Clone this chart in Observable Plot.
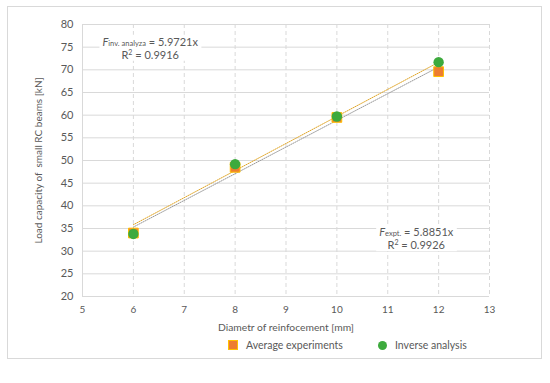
<!DOCTYPE html>
<html>
<head>
<meta charset="utf-8">
<script src="https://cdn.jsdelivr.net/npm/d3@7"></script>
<script src="https://cdn.jsdelivr.net/npm/@observablehq/plot@0.6"></script>
<style>
  body { margin: 0; background: #fff; font-family: Lato, "Open Sans", sans-serif; }
  #wrap { position: relative; width: 550px; height: 383px; }
  #frame { position: absolute; left: 7px; top: 6px; width: 535px; height: 353px; border: 1px solid #d9d9d9; box-sizing: border-box; }
  #chart { position: absolute; left: 0; top: 0; }
  #legend { position: absolute; top: 339px; left: 0; width: 550px; font-size: 10.5px; color: #595959; }
  .item { position: absolute; display: flex; align-items: center; }
  .sw { display: inline-block; margin-right: 8px; }
</style>
</head>
<body>
<div id="wrap">
  <div id="frame"></div>
  <div id="chart"></div>
  <div id="legend">
    <div class="item" style="left:228px"><span class="sw" style="width:8px;height:8px;background:#ED7D31;border:1px solid #FFC000"></span>Average experiments</div>
    <div class="item" style="left:378px"><span class="sw" style="width:9px;height:9px;background:#3DAA3D;border-radius:50%"></span>Inverse analysis</div>
  </div>
</div>
<script>
const diameters = [6, 8, 10, 12];
const avgExperiments = [34.0, 48.5, 59.5, 69.6];
const inverseAnalysis = [33.8, 49.2, 59.7, 71.7];
const xTicks = [5, 6, 7, 8, 9, 10, 11, 12, 13];
const yTicks = [20, 25, 30, 35, 40, 45, 50, 55, 60, 65, 70, 75, 80];
const slopeExpt = 5.8851;
const slopeInv = 5.9721;
const r2Expt = 0.9926;
const r2Inv = 0.9916;

const expData = diameters.map((d, i) => ({x: d, y: avgExperiments[i]}));
const invData = diameters.map((d, i) => ({x: d, y: inverseAnalysis[i]}));
const xRange = [diameters[0], diameters[diameters.length - 1]];
const trendExpt = xRange.map(x => ({x, y: slopeExpt * x}));
const trendInv = xRange.map(x => ({x, y: slopeInv * x}));

const plot = Plot.plot({
  width: 550,
  height: 335,
  marginTop: 24,
  marginBottom: 39,
  marginLeft: 82,
  marginRight: 61,
  style: {fontFamily: "Lato, 'Open Sans', sans-serif", fontSize: "11px", color: "#595959", background: "transparent"},
  x: {domain: [5, 13], ticks: xTicks, label: null},
  y: {domain: [20, 80], ticks: yTicks, label: null},
  marks: [
    Plot.gridY(yTicks, {stroke: "#d9d9d9", strokeOpacity: 1, strokeWidth: 1}),
    Plot.gridX(xTicks.slice(1), {stroke: "#d9d9d9", strokeOpacity: 1, strokeDasharray: "4,3"}),
    Plot.ruleX([5], {stroke: "#d9d9d9"}),
    Plot.axisX(xTicks, {tickSize: 0, tickPadding: 9, fill: "#595959", fontSize: 10, label: null}),
    Plot.axisY(yTicks, {tickSize: 0, tickPadding: 9, fill: "#595959", fontSize: 11, label: null}),
    Plot.line(trendExpt, {x: "x", y: "y", stroke: "#9a9a9a", strokeWidth: 1, strokeDasharray: "1,1.2"}),
    Plot.line(trendInv, {x: "x", y: "y", stroke: "#E0A526", strokeWidth: 1, strokeDasharray: "1,1.2"}),
    Plot.dot(expData, {x: "x", y: "y", symbol: "square", r: 5.5, fill: "#ED7D31", stroke: "#FFC000", strokeWidth: 1}),
    Plot.dot(invData, {x: "x", y: "y", symbol: "circle", r: 5.2, fill: "#3DAA3D"}),
    Plot.text(["Diametr of reinfocement [mm]"], {frameAnchor: "bottom", dy: 34, fill: "#595959", fontSize: 10.3}),
    Plot.text(["Load capacity of  small RC beams [kN]"], {frameAnchor: "left", dx: -44, rotate: -90, textAnchor: "middle", fill: "#595959", fontSize: 10})
  ]
});
document.getElementById("chart").appendChild(plot);

const sx = plot.scale("x"), sy = plot.scale("y");
const svg = d3.select(plot);
function annotate(cx, cy, sub, slope, r2) {
  const g = svg.append("g").attr("fill", "#595959").attr("font-size", 11);
  const px = sx.apply(cx), py = sy.apply(cy);
  const t1 = g.append("text").attr("x", px).attr("y", py).attr("text-anchor", "middle");
  t1.append("tspan").attr("font-style", "italic").text("F");
  t1.append("tspan").attr("font-size", 7.5).text(sub);
  t1.append("tspan").text(" = " + slope + "x");
  const t2 = g.append("text").attr("x", px).attr("y", py + 13).attr("text-anchor", "middle");
  t2.append("tspan").text("R");
  t2.append("tspan").attr("font-size", 7).attr("dy", -4).text("2");
  t2.append("tspan").attr("dy", 4).text(" = " + r2);
  const b = t1.node().getBBox();
  const b2 = t2.node().getBBox();
  const x0 = Math.min(b.x, b2.x) - 3, x1 = Math.max(b.x + b.width, b2.x + b2.width) + 3;
  g.insert("rect", "text").attr("x", x0).attr("y", b.y).attr("width", x1 - x0).attr("height", b2.y + b2.height - b.y).attr("fill", "white");
}
annotate(6.34, 75.2, "inv. analyza", "5.9721", r2Inv);
annotate(11.57, 33.2, "expt.", "5.8851", r2Expt);
</script>
</body>
</html>
